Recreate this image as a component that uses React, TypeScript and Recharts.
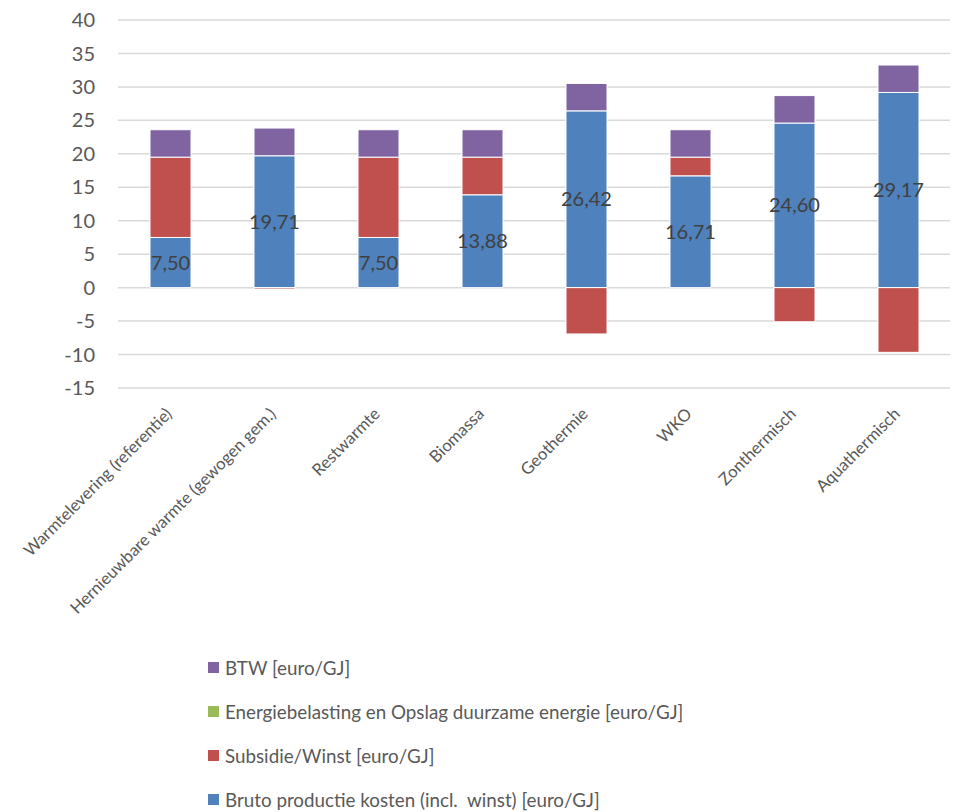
import React from 'react';
import { BarChart, Bar, XAxis, YAxis, CartesianGrid, LabelList } from 'recharts';

const categories = [
  'Warmtelevering (referentie)',
  'Hernieuwbare warmte (gewogen gem.)',
  'Restwarmte',
  'Biomassa',
  'Geothermie',
  'WKO',
  'Zonthermisch',
  'Aquathermisch',
];
const bruto = [7.5, 19.71, 7.5, 13.88, 26.42, 16.71, 24.6, 29.17];
const subsidie = [12.0, -0.21, 12.0, 5.62, -6.92, 2.79, -5.1, -9.67];
const energiebelasting = [0, 0, 0, 0, 0, 0, 0, 0];
const btw = [4.1, 4.14, 4.1, 4.1, 4.1, 4.1, 4.1, 4.1];
const yTicks = [-15, -10, -5, 0, 5, 10, 15, 20, 25, 30, 35, 40];

const seriesNames = {
  btw: 'BTW [euro/GJ]',
  energie: 'Energiebelasting en Opslag duurzame energie [euro/GJ]',
  subsidie: 'Subsidie/Winst [euro/GJ]',
  bruto: 'Bruto productie kosten (incl.  winst) [euro/GJ]',
};
const colors = {
  btw: '#8064A2',
  energie: '#9BBB59',
  subsidie: '#C0504D',
  bruto: '#4F81BD',
};

const data = categories.map((c, i) => ({
  name: c,
  bruto: bruto[i],
  subsidie: subsidie[i],
  energie: energiebelasting[i],
  btw: btw[i],
}));

const FONT = 'Lato, "Open Sans", sans-serif';

const XTick = (props: any) => {
  const { x, y, payload } = props;
  return (
    <text
      transform={`translate(${x + 3}, ${y + 19}) rotate(-45)`}
      textAnchor="end"
      fontSize={16.7}
      fontFamily={FONT}
      fill="#595959"
    >
      {payload.value}
    </text>
  );
};

const legendOrder: Array<keyof typeof seriesNames> = ['btw', 'energie', 'subsidie', 'bruto'];

export default function App() {
  return (
    <div style={{ position: 'absolute', left: 0, top: 0, width: 953, height: 812, background: '#fff' }}>
      <BarChart
        width={953}
        height={812}
        data={data}
        stackOffset="sign"
        barSize={41}
        margin={{ top: 20, right: 3, left: 0, bottom: 414 }}
      >
        <CartesianGrid vertical={false} stroke="#D9D9D9" strokeWidth={1.5} />
        <XAxis
          dataKey="name"
          axisLine={false}
          tickLine={false}
          interval={0}
          tick={<XTick />}
          height={10}
        />
        <YAxis
          domain={[-15, 40]}
          ticks={yTicks}
          axisLine={false}
          tickLine={false}
          tickSize={0}
          tickMargin={23}
          width={118}
          interval={0}
          tick={{ fontSize: 20, fontFamily: FONT, fill: '#595959' }}
        />
        <Bar dataKey="bruto" stackId="a" fill={colors.bruto} stroke="#fff" strokeWidth={1} isAnimationActive={false}>
          <LabelList
            dataKey="bruto"
            position="center"
            formatter={(v: any) => Number(v).toFixed(2).replace('.', ',')}
            style={{ fontSize: 20, fontFamily: FONT, fill: '#404040' }}
          />
        </Bar>
        <Bar dataKey="subsidie" stackId="a" fill={colors.subsidie} stroke="#fff" strokeWidth={1} isAnimationActive={false} />
        <Bar dataKey="energie" stackId="a" fill={colors.energie} isAnimationActive={false} />
        <Bar dataKey="btw" stackId="a" fill={colors.btw} stroke="#fff" strokeWidth={1} isAnimationActive={false} />
      </BarChart>
      <div
        style={{
          position: 'absolute',
          left: 208,
          top: 645,
          fontFamily: FONT,
          fontSize: 18.8,
          color: '#595959',
        }}
      >
        {legendOrder.map((k) => (
          <div key={k} style={{ display: 'flex', alignItems: 'center', height: 44 }}>
            <span style={{ display: 'inline-block', width: 11, height: 11, background: colors[k], marginRight: 6 }} />
            <span style={{ whiteSpace: 'pre' }}>{seriesNames[k]}</span>
          </div>
        ))}
      </div>
    </div>
  );
}
